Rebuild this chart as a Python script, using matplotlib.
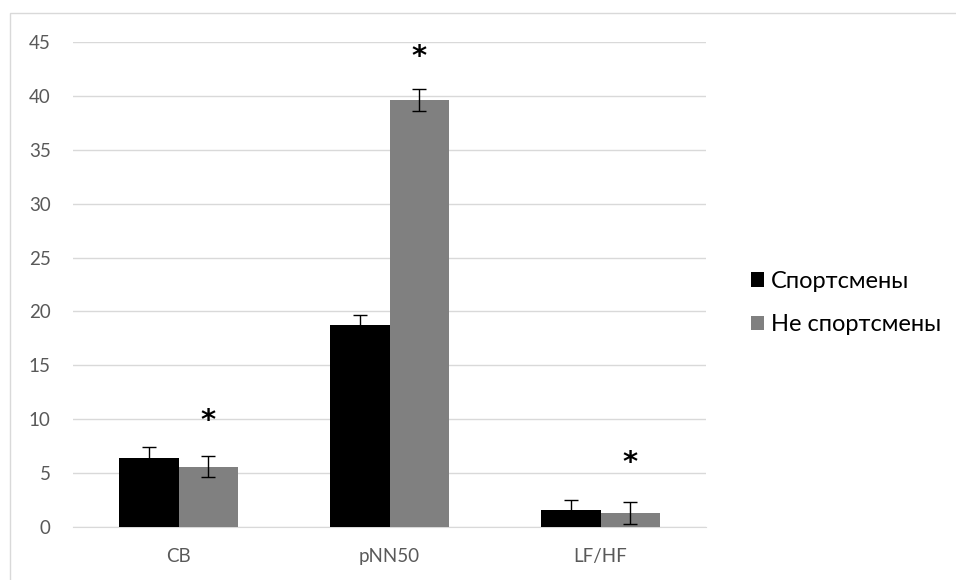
import matplotlib
matplotlib.use("Agg")
import matplotlib.pyplot as plt
import numpy as np
from matplotlib.patches import Rectangle

categories = ["СВ", "pNN50", "LF/HF"]
series_names = ["Спортсмены", "Не спортсмены"]
athletes = [6.4, 18.7, 1.55]
athletes_err = [1.0, 1.0, 1.0]
non_athletes = [5.6, 39.6, 1.27]
non_athletes_err = [1.0, 1.0, 1.03]
star_y = [9.8, 43.6, 5.9]
yticks = [0, 5, 10, 15, 20, 25, 30, 35, 40, 45]

plt.rcParams['font.family'] = ['Lato', 'DejaVu Sans']

W, H = 956, 580
fig = plt.figure(figsize=(W / 100, H / 100), dpi=100)
ax = fig.add_axes([73 / W, (H - 527) / H, (706 - 73) / W, (527 - 42) / H])

x = np.arange(len(categories))
bw = 0.284
ax.bar(x - bw / 2, athletes, bw, color="#000000", label=series_names[0],
       yerr=athletes_err, error_kw=dict(ecolor="#000000", elinewidth=1.0, capsize=5, capthick=1.0), zorder=3)
ax.bar(x + bw / 2, non_athletes, bw, color="#808080", label=series_names[1],
       yerr=non_athletes_err, error_kw=dict(ecolor="#000000", elinewidth=1.0, capsize=5, capthick=1.0), zorder=3)

for xi, sy in zip(x, star_y):
    ax.text(xi + bw / 2, sy, "*", ha="center", va="center", fontsize=21, fontweight="bold",
            family="DejaVu Sans", color="#000000", zorder=4)

ax.set_xlim(-0.5, 2.5)
ax.set_ylim(0, 45)
ax.set_yticks(yticks)
ax.set_xticks(x)
ax.set_xticklabels(categories)
ax.yaxis.grid(True, color="#d9d9d9", linewidth=1.0, zorder=0)
ax.set_axisbelow(True)
for s in ["top", "right", "left"]:
    ax.spines[s].set_visible(False)
ax.spines["bottom"].set_color("#d9d9d9")
ax.tick_params(axis="both", length=0, labelsize=13.5, colors="#595959")
ax.tick_params(axis="x", pad=15)
ax.tick_params(axis="y", pad=16)

leg = fig.legend(loc="center left", bbox_to_anchor=(730 / W, 1 - 303 / H), frameon=False,
                 fontsize=17, handlelength=0.55, handleheight=0.55, handletextpad=0.3,
                 labelspacing=0.95)

# outer chart border
fig.patches.append(Rectangle((10 / W, -0.05), 1.1, 1 - 13 / H + 0.05, transform=fig.transFigure,
                             fill=False, edgecolor="#d9d9d9", linewidth=1.0, zorder=0))

fig.savefig("out.png", dpi=100)
